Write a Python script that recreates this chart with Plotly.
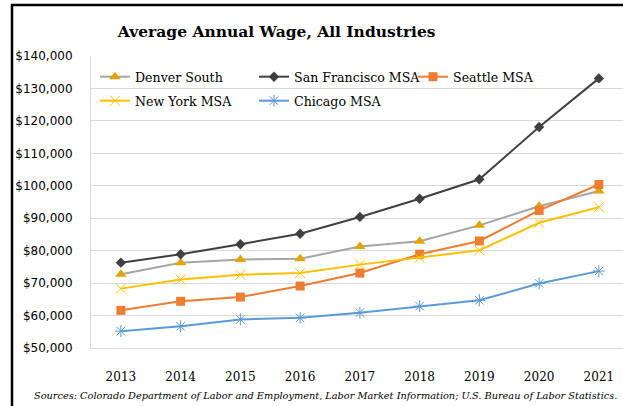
import plotly.graph_objects as go

years = ["2013", "2014", "2015", "2016", "2017", "2018", "2019", "2020", "2021"]
denver_south = [72700, 76300, 77300, 77500, 81300, 82900, 87800, 93700, 98400]
san_francisco = [76300, 78900, 82000, 85200, 90400, 96000, 102000, 118100, 133100]
seattle = [61600, 64400, 65700, 69100, 73100, 78900, 83000, 92400, 100400]
new_york = [68300, 71100, 72600, 73100, 75700, 77800, 80100, 88600, 93400]
chicago = [55200, 56700, 58800, 59300, 60900, 62900, 64700, 69900, 73700]

W, H = 623, 406
ML, MT, MB = 91, 56, 58
PW, PH = W - ML, H - MT - MB


def px(x):
    return (x - ML) / PW


def py(y):
    return (H - MB - y) / PH


serif = "DejaVu Serif"
fig = go.Figure()

series = [
    ("Denver South", denver_south, "#A5A5A5", dict(symbol="triangle-up", size=10, color="#E5A300"), "legend"),
    ("San Francisco MSA", san_francisco, "#404040", dict(symbol="diamond", size=8, color="#404040"), "legend"),
    ("Seattle MSA", seattle, "#ED7D31", dict(symbol="square", size=9, color="#ED7D31"), "legend"),
    ("New York MSA", new_york, "#FFC000", dict(symbol="x-thin-open", size=10, color="#FFC000", line=dict(width=1, color="#FFC000")), "legend2"),
    ("Chicago MSA", chicago, "#5B9BD5", dict(symbol="asterisk-open", size=10, color="#5B9BD5", line=dict(width=1, color="#5B9BD5")), "legend2"),
]
for name, vals, col, mk, lg in series:
    fig.add_trace(go.Scatter(
        x=years, y=vals, name=name, mode="lines+markers",
        line=dict(color=col, width=2), marker=mk, legend=lg,
    ))

legend_common = dict(
    orientation="h", xanchor="left", yanchor="middle",
    font=dict(family=serif, size=12.6, color="#000000"),
    bgcolor="rgba(0,0,0,0)", entrywidth=114, entrywidthmode="pixels",
    itemclick=False,
)

fig.update_layout(
    width=W, height=H,
    margin=dict(l=ML, r=0, t=MT, b=MB),
    paper_bgcolor="white", plot_bgcolor="white",
    title=dict(
        text="<b>Average Annual Wage, All Industries</b>",
        x=276.7 / W, xanchor="center", xref="container",
        y=1 - 32 / H, yanchor="middle", yref="container",
        font=dict(family=serif, size=15.5, color="#000000"),
    ),
    xaxis=dict(
        type="category", range=[-0.5, (W - ML) / 59.75 - 0.5],
        showgrid=False, showline=True, linecolor="#D9D9D9", linewidth=1,
        ticks="", ticklabelstandoff=18,
        tickfont=dict(family=serif, size=12, color="#000000"),
    ),
    yaxis=dict(
        range=[50000, 140000], dtick=10000, tickprefix="$", tickformat=",.0f",
        showgrid=True, gridcolor="#D9D9D9", gridwidth=1,
        showline=True, linecolor="#D9D9D9", linewidth=1, zeroline=False,
        ticks="", ticklabelstandoff=15,
        tickfont=dict(family="DejaVu Sans", size=12, color="#000000"),
    ),
    legend=dict(x=px(95), y=py(77), **legend_common),
    legend2=dict(x=px(95), y=py(101), **legend_common),
    shapes=[
        dict(type="line", xref="paper", yref="paper", x0=px(12), x1=px(12), y0=py(4), y1=py(H),
             line=dict(color="black", width=2.5)),
        dict(type="line", xref="paper", yref="paper", x0=px(11), x1=px(W), y0=py(5), y1=py(5),
             line=dict(color="black", width=2.5)),
    ],
    annotations=[
        dict(text="Sources: Colorado Department of Labor and Employment, Labor Market Information; U.S. Bureau of Labor Statistics.",
             xref="paper", yref="paper", x=px(325), y=py(395), xanchor="center", yanchor="middle",
             showarrow=False, font=dict(family=serif, size=9.75, color="#000000", style="italic")),
    ],
)

fig.write_html(
    "out.html",
    config={"displayModeBar": False},
    post_script="document.body.style.margin='0';document.body.style.overflow='hidden';",
)
